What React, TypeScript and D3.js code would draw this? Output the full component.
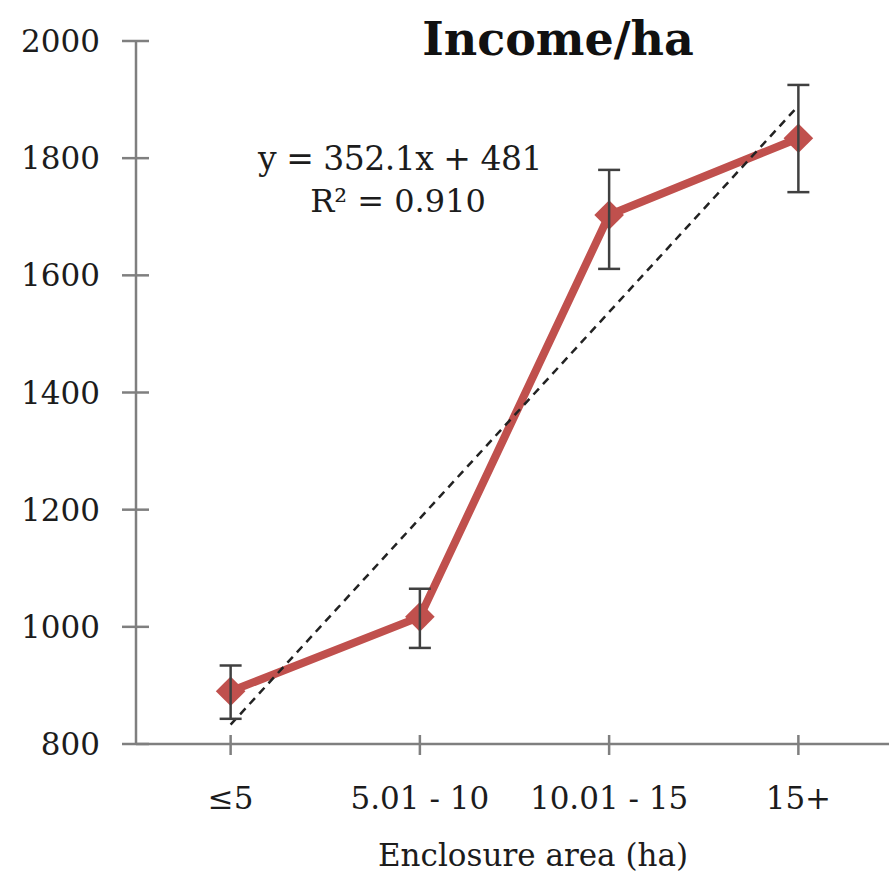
import React from "react";
import * as d3 from "d3";

const categories = ["≤5", "5.01 - 10", "10.01 - 15", "15+"];
const incomeMean = [890, 1017, 1703, 1834];
const errorUpper = [934, 1065, 1780, 1925];
const errorLower = [843, 964, 1611, 1742];
const yTicks = [800, 1000, 1200, 1400, 1600, 1800, 2000];
const trendSlope = 352.1;
const trendIntercept = 481;
const equationText = "y = 352.1x + 481";
const r2Text = "R² = 0.910";
const titleText = "Income/ha";
const xTitleText = "Enclosure area (ha)";

export default function App() {
  const W = 889;
  const H = 875;
  const axisX = 136;
  const x = d3.scalePoint<string>().domain(categories).range([axisX, 893]).padding(0.5);
  const y = d3.scaleLinear().domain([800, 2000]).range([744, 41]);
  const line = d3
    .line<number>()
    .x((_, i) => x(categories[i]) as number)
    .y((d) => y(d));
  const trendVals = categories.map((_, i) => trendSlope * (i + 1) + trendIntercept);
  const serif = "'DejaVu Serif', serif";
  const diamond = d3.symbol().type(d3.symbolDiamond2).size(560)();
  const txt = "#1c1c1c";

  return (
    <svg width={W} height={H} style={{ position: "absolute", left: 0, top: 0, background: "#fff" }}>
      <rect x={0} y={0} width={W} height={H} fill="#fff" />
      <text x={558} y={55} textAnchor="middle" fontFamily={serif} fontWeight="bold" fontSize={46} fill="#111">
        {titleText}
      </text>
      <line x1={axisX} x2={axisX} y1={y(2000)} y2={y(800)} stroke="#7f7f7f" strokeWidth={2.5} />
      {yTicks.map((t) => (
        <g key={t}>
          <line x1={axisX - 14} x2={axisX + 13} y1={y(t)} y2={y(t)} stroke="#7f7f7f" strokeWidth={2.5} />
          <text x={100} y={y(t) + 11} textAnchor="end" fontFamily={serif} fontSize={31} fill={txt}>
            {t}
          </text>
        </g>
      ))}
      <line x1={axisX} x2={W} y1={y(800)} y2={y(800)} stroke="#7f7f7f" strokeWidth={2.5} />
      {categories.map((c) => (
        <g key={c}>
          <line x1={x(c)} x2={x(c)} y1={y(800) - 9} y2={y(800) + 11} stroke="#7f7f7f" strokeWidth={2.5} />
          <text x={x(c)} y={809} textAnchor="middle" fontFamily={serif} fontSize={31} fill={txt}>
            {c}
          </text>
        </g>
      ))}
      <text x={533} y={866} textAnchor="middle" fontFamily={serif} fontSize={31} fill={txt}>
        {xTitleText}
      </text>
      <path d={line(incomeMean) || ""} fill="none" stroke="#c0504d" strokeWidth={8} strokeLinejoin="round" />
      {incomeMean.map((v, i) => (
        <path key={i} d={diamond || ""} transform={`translate(${x(categories[i])},${y(v)})`} fill="#c0504d" />
      ))}
      <path d={line(trendVals) || ""} fill="none" stroke="#222" strokeWidth={2.5} strokeDasharray="8,6" />
      {incomeMean.map((_, i) => {
        const cx = x(categories[i]) as number;
        return (
          <g key={i} stroke="#404040" strokeWidth={2.5}>
            <line x1={cx} x2={cx} y1={y(errorUpper[i])} y2={y(errorLower[i])} />
            <line x1={cx - 11} x2={cx + 11} y1={y(errorUpper[i])} y2={y(errorUpper[i])} />
            <line x1={cx - 11} x2={cx + 11} y1={y(errorLower[i])} y2={y(errorLower[i])} />
          </g>
        );
      })}
      <text x={400} y={170} textAnchor="middle" fontFamily={serif} fontSize={33} fill={txt} letterSpacing={-0.5}>
        {equationText}
      </text>
      <text x={398} y={212} textAnchor="middle" fontFamily={serif} fontSize={32} fill={txt}>
        {r2Text}
      </text>
    </svg>
  );
}
